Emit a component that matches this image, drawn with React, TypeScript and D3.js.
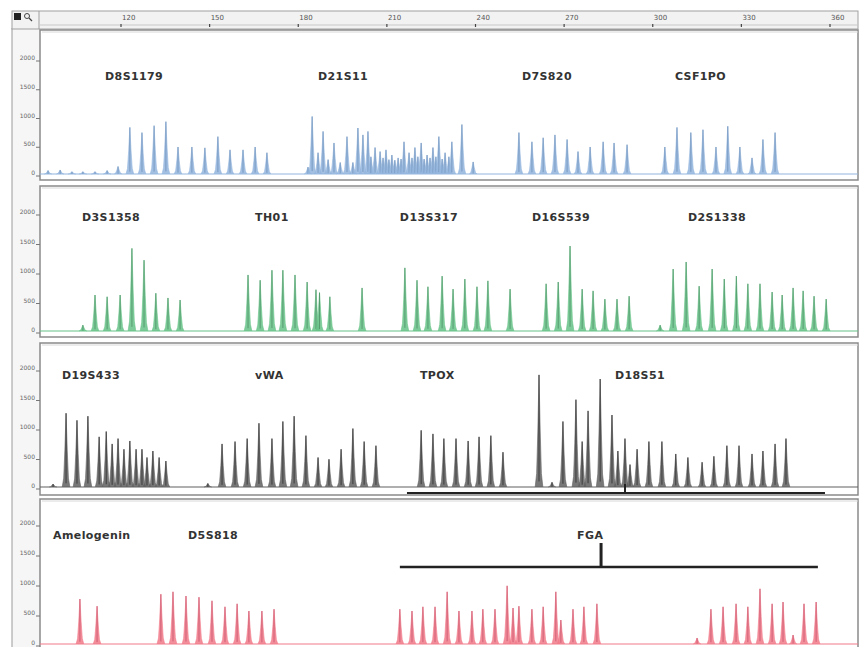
import React from 'react';
import * as d3 from 'd3';

// size axis (bp) ticks along the top ruler
const sizeTicks = [120, 150, 180, 210, 240, 270, 300, 330, 360];
const rfuTicks = [0, 500, 1000, 1500, 2000];

// [size in bp, height in RFU]
const bluePeaks: [number, number][] = [
  [95.3, 60], [99.4, 70], [103.4, 40], [107.1, 40], [111.2, 40], [115.3, 60], [119.0, 130],
  [123.0, 810], [127.1, 720], [131.2, 840], [135.2, 910], [139.3, 470], [144.0, 470],
  [148.4, 455], [152.8, 650], [156.9, 420], [161.3, 420], [165.4, 470], [169.4, 370],
  [183.3, 120], [184.7, 1000], [186.7, 370], [188.4, 740], [190.1, 250], [192.1, 540],
  [194.2, 200], [196.5, 650], [198.5, 200], [200.2, 800], [201.9, 680], [203.6, 740],
  [204.6, 300], [206.0, 460], [207.7, 390], [208.7, 280], [209.7, 420], [210.7, 250],
  [211.7, 330], [212.7, 240], [213.8, 280], [214.8, 260], [215.8, 560], [217.5, 370],
  [218.5, 280], [219.5, 460], [220.5, 300], [221.6, 540], [222.6, 260], [223.6, 330],
  [224.6, 280], [225.6, 460], [226.6, 300], [227.6, 650], [228.7, 260], [229.7, 370],
  [231.0, 300], [232.0, 560], [235.4, 860], [239.2, 210],
  [254.7, 720], [259.1, 560], [262.9, 630], [266.9, 680], [271.0, 600], [274.7, 390],
  [278.8, 470], [283.2, 560], [286.9, 540], [291.3, 510],
  [304.1, 470], [308.2, 810], [312.9, 720], [317.0, 770], [321.4, 470], [325.4, 830],
  [329.5, 470], [333.6, 280], [337.3, 600], [341.4, 720],
];

const greenPeaks: [number, number][] = [
  [107.1, 100], [111.2, 610], [115.3, 580], [119.7, 610], [123.7, 1400], [127.8, 1200],
  [131.8, 640], [135.9, 560], [140.0, 525],
  [163.0, 950], [167.1, 860], [171.1, 1030], [174.8, 1030], [178.9, 950], [183.0, 830],
  [186.0, 700], [187.2, 650], [190.7, 580],
  [201.6, 730],
  [216.1, 1070], [220.2, 860], [223.9, 750], [228.7, 930], [232.4, 710], [236.4, 880],
  [240.5, 750], [244.2, 850],
  [251.7, 710],
  [263.9, 800], [268.0, 830], [272.0, 1440], [276.1, 710], [279.8, 680], [283.8, 540],
  [287.9, 540], [292.0, 590],
  [302.5, 100],
  [306.9, 1050], [311.3, 1170], [315.7, 760], [320.1, 1050], [324.2, 880], [328.3, 930],
  [332.2, 800], [336.3, 800], [340.4, 660], [343.8, 610], [347.5, 730], [350.9, 680],
  [354.6, 590], [358.7, 540],
];

const blackPeaks: [number, number][] = [
  [97.0, 50], [101.4, 1250], [105.1, 1130], [108.8, 1200], [112.6, 850], [115.0, 940],
  [117.0, 730], [119.0, 820], [121.0, 640], [123.0, 780], [125.1, 640], [127.1, 640],
  [128.8, 500], [130.8, 610], [132.9, 500], [135.2, 440],
  [149.4, 60],
  [154.2, 730], [158.6, 770], [162.7, 820], [166.7, 1080], [171.1, 820], [174.8, 1110],
  [178.6, 1200], [182.6, 870], [186.7, 500], [190.4, 470], [194.5, 640], [198.5, 990],
  [202.3, 770], [206.3, 700],
  [221.6, 960], [225.6, 900], [229.3, 820], [233.4, 820], [237.5, 780], [241.2, 850],
  [245.2, 870], [249.3, 590],
  [261.5, 1900], [265.9, 80], [269.6, 1110], [274.0, 1480], [276.1, 770], [278.1, 1290],
  [282.2, 1830], [286.2, 1220], [288.2, 610], [290.6, 820], [292.3, 380], [294.7, 640],
  [298.7, 770], [303.1, 770], [307.8, 560], [311.9, 500], [316.7, 420], [320.7, 520],
  [325.1, 700], [329.2, 700], [333.6, 560], [337.3, 610], [341.4, 730], [345.1, 820],
];

const redPeaks: [number, number][] = [
  [106.1, 750], [111.9, 630],
  [133.5, 830], [137.6, 870], [142.0, 800], [146.4, 780], [150.8, 720], [155.2, 620],
  [159.3, 670], [163.3, 550], [167.7, 550], [171.8, 580],
  [214.4, 580], [218.5, 550], [222.2, 620], [226.3, 620], [230.4, 870], [234.4, 550],
  [238.8, 550], [242.5, 580], [246.6, 580], [250.7, 970], [252.7, 600], [254.7, 630],
  [259.1, 580], [262.9, 620], [267.2, 870], [268.9, 400], [273.0, 580], [276.7, 620],
  [281.1, 670],
  [315.0, 100],
  [319.7, 580], [323.8, 620], [328.2, 670], [332.2, 620], [336.3, 920], [340.4, 670],
  [344.1, 700], [347.5, 150], [351.2, 670], [355.3, 700],
];

// locus names with the size (bp) where each label starts
const blueLoci: [string, number][] = [['D8S1179', 114.6], ['D21S11', 186.7], ['D7S820', 255.7], ['CSF1PO', 307.5]];
const greenLoci: [string, number][] = [['D3S1358', 106.8], ['TH01', 165.4], ['D13S317', 214.4], ['D16S539', 259.1], ['D2S1338', 311.9]];
const blackLoci: [string, number][] = [['D19S433', 100.0], ['vWA', 165.4], ['TPOX', 221.2], ['D18S51', 287.2]];
const redLoci: [string, number][] = [['Amelogenin', 97.0], ['D5S818', 142.7], ['FGA', 274.4]];

// bin bars: [start bp, end bp, marker bp]
const blackBin: [number, number, number] = [216.8, 358.3, 290.6];
const fgaBin: [number, number, number] = [214.4, 355.9, 282.5];

const W = 860;
const H = 647;
const left = 40;
const right = 858;

const x = d3.scaleLinear().domain([120, 360]).range([121, 830]);

const panels = [
  { id: 'b', peaks: bluePeaks, loci: blueLoci, top: 30, bottom: 180, base: 174, y2000: 59, labelY: 80, fill: '#93b5de', edge: '#6a8cb6' },
  { id: 'g', peaks: greenPeaks, loci: greenLoci, top: 186, bottom: 337, base: 331, y2000: 213, labelY: 221, fill: '#66c287', edge: '#4a8c62' },
  { id: 'k', peaks: blackPeaks, loci: blackLoci, top: 343, bottom: 495, base: 487, y2000: 369, labelY: 379, fill: '#606060', edge: '#2a2a2a' },
  { id: 'r', peaks: redPeaks, loci: redLoci, top: 499, bottom: 660, base: 644, y2000: 524, labelY: 539, fill: '#f17a8a', edge: '#c44f68' },
];

// relative outline of one peak: [bp offset, fraction of height]
const shape: [number, number][] = [
  [-1.3, 0], [-0.8, 0.12], [-0.4, 0.5], [0, 1], [0.4, 0.5], [0.8, 0.12], [1.3, 0],
];

const line = d3.line();

export default function App() {
  return (
    <svg width={W} height={H} style={{ position: 'absolute', left: 0, top: 0, background: '#fff' }}
      fontFamily="'DejaVu Sans', sans-serif">
      <defs>
        <clipPath id="plotclip">
          <rect x={left} y={0} width={right - left} height={H} />
        </clipPath>
      </defs>
      {/* left strip and header ruler */}
      <rect x={0} y={0} width={W} height={H} fill="#ffffff" />
      <rect x={12} y={28} width={left - 12} height={H - 28} fill="#f6f6f6" />
      <line x1={12} x2={12} y1={28} y2={H} stroke="#9a9a9a" />
      <rect x={12} y={11} width={right - 12} height={18} fill="#f2f2f2" stroke="#a0a0a0" />
      <line x1={40} x2={right} y1={25} y2={25} stroke="#c8c8c8" />
      <rect x={14} y={13} width={7} height={7} fill="#222" />
      <circle cx={27} cy={16} r={2.5} fill="none" stroke="#444" strokeWidth={1} />
      <line x1={29} y1={18} x2={32} y2={21} stroke="#444" strokeWidth={1.2} />
      <line x1={39} x2={39} y1={11} y2={29} stroke="#a0a0a0" />
      {sizeTicks.map(t => (
        <g key={t}>
          <line x1={x(t)} x2={x(t)} y1={24} y2={27} stroke="#444" strokeWidth={1.2} />
          <text x={x(t) + 1} y={20} fontSize={7} fill="#555">{t}</text>
        </g>
      ))}

      {panels.map(p => {
        const y = d3.scaleLinear().domain([0, 2000]).range([p.base, p.y2000]);
        return (
          <g key={p.id}>
            <rect x={left} y={p.top} width={right - left} height={p.bottom - p.top}
              fill="#fff" stroke="#8a8a8a" strokeWidth={1.5} />
            <line x1={left + 2} x2={right} y1={p.top + 2} y2={p.top + 2} stroke="#d8d8d8" />
            {rfuTicks.map(t => (
              <g key={t}>
                <text x={35} y={y(t) + 1} fontSize={6} fill="#666" textAnchor="end">{t}</text>
                <line x1={36} x2={40} y1={y(t) + 2} y2={y(t) + 2} stroke="#777" />
              </g>
            ))}
            <g clipPath="url(#plotclip)">
              <line x1={left} x2={right} y1={p.base} y2={p.base} stroke={p.fill} strokeWidth={1.2} />
              {p.peaks.map(([bp, h], i) => (
                <g key={i}>
                  <path d={line(shape.map(([dx, f]) => [x(bp + dx), y(h * f)]))!}
                    fill={p.fill} fillOpacity={0.85} stroke={p.fill} strokeWidth={0.6} />
                  <line x1={x(bp)} x2={x(bp)} y1={y(h)} y2={y(h * 0.05)}
                    stroke={p.edge} strokeWidth={1} strokeOpacity={0.75} />
                </g>
              ))}
            </g>
            {p.loci.map(([name, bp]) => (
              <text key={name} x={x(bp)} y={p.labelY} fontSize={11} fontWeight="bold"
                fill="#333" letterSpacing={0.4}>{name}</text>
            ))}
          </g>
        );
      })}

      {/* allelic ladder bin bars */}
      <line x1={x(blackBin[0])} x2={x(blackBin[1])} y1={493} y2={493} stroke="#222" strokeWidth={2} />
      <line x1={x(blackBin[2])} x2={x(blackBin[2])} y1={484} y2={493} stroke="#222" strokeWidth={2} />
      <line x1={x(fgaBin[0])} x2={x(fgaBin[1])} y1={567} y2={567} stroke="#222" strokeWidth={2.5} />
      <line x1={x(fgaBin[2])} x2={x(fgaBin[2])} y1={543} y2={567} stroke="#222" strokeWidth={3} />
    </svg>
  );
}
